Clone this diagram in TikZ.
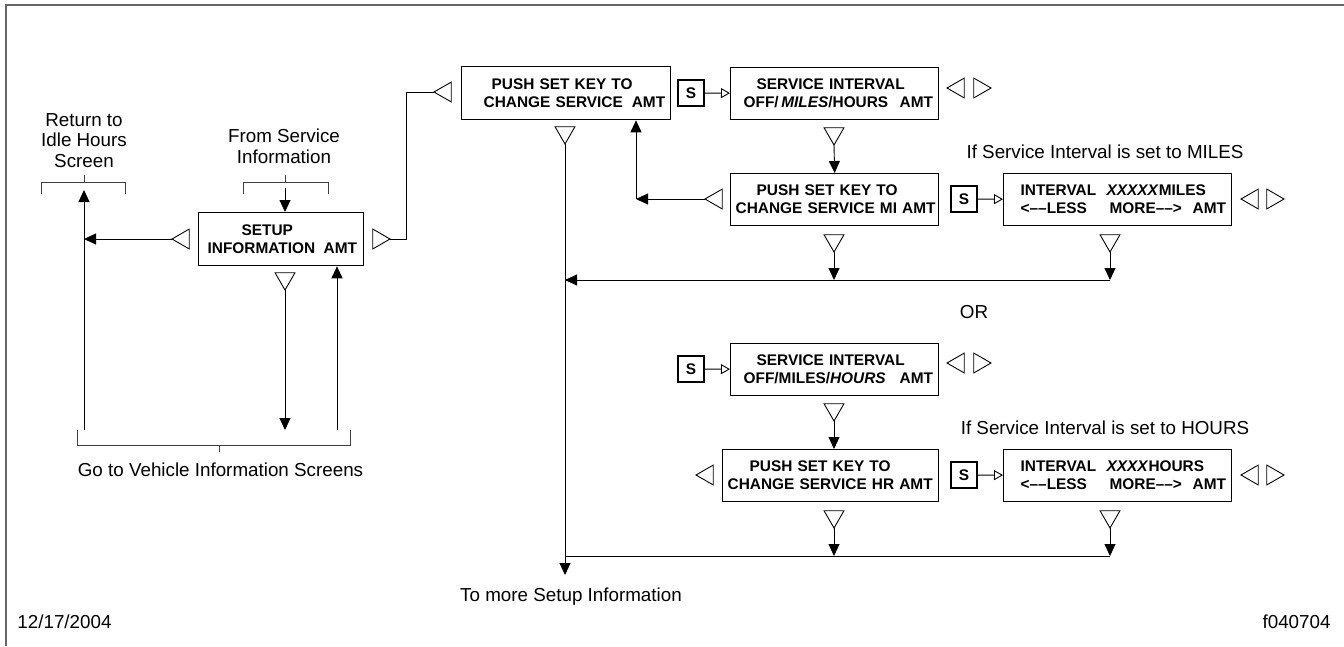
\documentclass[tikz,border=0pt]{standalone}
\usepackage{fontspec}
\setmainfont{Liberation Sans}
\usetikzlibrary{arrows.meta,shapes.geometric}
\newcommand\bxfont{\fontsize{15.4}{18}\selectfont\bfseries}
\newcommand\rgfont{\fontsize{18.8}{20.5}\selectfont}
\begin{document}
\begin{tikzpicture}[x=1pt,y=-1pt,line width=0.9pt,
  fa/.style={-{Triangle[length=12pt,width=11pt]}},
  oa/.style={-{Triangle[open,length=9pt,width=10pt]}},
  scrbox/.style={draw,line width=1.3pt,inner sep=0pt,anchor=north west,align=left,font=\bxfont},
  sbox/.style={draw,line width=1.3pt,inner sep=0pt,minimum size=26pt,font=\bxfont},
  tri/.style={draw,regular polygon,regular polygon sides=3,minimum size=23pt,inner sep=0pt,outer sep=0pt,line width=0.9pt,fill=white,anchor=corner 1},
  triL/.style={tri,regular polygon rotate=90},
  triR/.style={tri,regular polygon rotate=-90},
  triD/.style={tri,regular polygon rotate=180},
  brk/.style={line width=0.8pt,black!75},
  lbl/.style={font=\rgfont,align=center,inner sep=0pt}]
\useasboundingbox (0,0) rectangle (1344,646);
\draw[black!60,line width=1.5pt] (6,646) -- (6,5) -- (1344,5);

% screen boxes
\node[scrbox,text width=165pt,minimum height=53pt] (setup) at (198,212)
  {\hspace*{43pt}SETUP\\\hspace*{9pt}INFORMATION\hspace{8.5pt}AMT};
\node[scrbox,text width=209pt,minimum height=53pt] (push1) at (461,66)
  {\hspace*{30pt}PUSH SET KEY TO\\\hspace*{22pt}CHANGE SERVICE\hspace{9pt}AMT};
\node[scrbox,text width=208pt,minimum height=52pt] (si1) at (730,67)
  {\hspace*{26pt}SERVICE INTERVAL\\\hspace*{13pt}\rlap{OFF/\,\textit{MILES}/HOURS}\hspace{156pt}AMT};
\node[scrbox,text width=208pt,minimum height=52pt] (pushMI) at (730,173)
  {\hspace*{26pt}PUSH SET KEY TO\\\hspace*{5pt}CHANGE SERVICE MI AMT};
\node[scrbox,text width=228pt,minimum height=52pt] (miles) at (1003,173)
  {\hspace*{17pt}\rlap{INTERVAL}\hspace{86pt}\textit{XXXXX}MILES\\
   \hspace*{17pt}\rlap{<––LESS}\hspace{89pt}\rlap{MORE––>}\hspace{83pt}AMT};
\node[scrbox,text width=208pt,minimum height=52pt] (si2) at (730,343)
  {\hspace*{26pt}SERVICE INTERVAL\\\hspace*{13pt}\rlap{OFF/MILES/\textit{HOURS}}\hspace{156pt}AMT};
\node[scrbox,text width=216pt,minimum height=52pt] (pushHR) at (722,449)
  {\hspace*{27pt}PUSH SET KEY TO\\\hspace*{5pt}CHANGE SERVICE HR AMT};
\node[scrbox,text width=228pt,minimum height=52pt] (hours) at (1003,449)
  {\hspace*{17pt}\rlap{INTERVAL}\hspace{86pt}\textit{XXXX}HOURS\\
   \hspace*{17pt}\rlap{<––LESS}\hspace{89pt}\rlap{MORE––>}\hspace{83pt}AMT};

% S keys
\node[sbox] (s1) at (691,93) {S};
\node[sbox] (s2) at (964,199) {S};
\node[sbox] (s3) at (691,369) {S};
\node[sbox] (s4) at (964,475) {S};
\draw[oa] (s1) -- (si1);
\draw[oa] (s2) -- (miles);
\draw[oa] (s3) -- (si2);
\draw[oa] (s4) -- (hours);

% open triangles
\node[triL] (tSetL) at (172,239) {};
\node[triR] (tSetR) at (390,239) {};
\node[triD] (tSetD) at (285,290) {};
\node[triL] (tP1L) at (434,92) {};
\node[triD] (tP1D) at (565,144) {};
\node[triL] (tSi1L) at (947,88) {};
\node[triR] (tSi1R) at (991,88) {};
\node[triD] (tSi1D) at (834,145) {};
\node[triL] (tMiL) at (705,199) {};
\node[triD] (tMiD) at (834,252) {};
\node[triL] (tMilesL) at (1241,199) {};
\node[triR] (tMilesR) at (1284,199) {};
\node[triD] (tMilesD) at (1110,252) {};
\node[triL] (tSi2L) at (947,363) {};
\node[triR] (tSi2R) at (991,363) {};
\node[triD] (tSi2D) at (834,421) {};
\node[triL] (tHrL) at (696,475) {};
\node[triD] (tHrD) at (834,528) {};
\node[triL] (tHoursL) at (1241,475) {};
\node[triR] (tHoursR) at (1284,475) {};
\node[triD] (tHoursD) at (1110,528) {};

% coordinates
\coordinate (retIn) at (84,190);
\coordinate (jL) at (84,239);
\coordinate (retBot) at (84,430);
\coordinate (fromOut) at (285,188);
\coordinate (setDn) at (285,430);
\coordinate (setUp) at (337,430);
\coordinate (k2) at (406,92);
\coordinate (jP) at (636,199);
\coordinate (mainEnd) at (565,575);
\coordinate (j1m) at (834,280);
\coordinate (h1R) at (1110,280);
\coordinate (h1L) at (565,280);
\coordinate (hrTop) at (834,449);
\coordinate (j2m) at (834,556);
\coordinate (h2R) at (1110,556);
\coordinate (h2L) at (565,556);

% connectors
\draw[fa] (tSetL.corner 1) -- (jL);
\draw[fa] (retBot) -- (retIn);
\draw[fa] (fromOut) -- (setup.north -| fromOut);
\draw (tSetR.corner 1) -| (k2) -- (tP1L.corner 1);
\draw[fa] (tSetD.corner 1) -- (setDn);
\draw[fa] (setUp) -- (setup.south -| setUp);
\draw[fa] (tP1D.corner 1) -- (mainEnd);
\draw[fa] (tMiL.corner 1) -- (jP);
\draw[fa] (jP) -- (push1.south -| jP);
\draw[fa] (tSi1D.corner 1) -- (pushMI.north);
\draw[fa] (tMiD.corner 1) -- (j1m);
\draw[fa] (tMilesD.corner 1) -- (h1R);
\draw[fa] (h1R) -- (h1L);
\draw[fa] (tSi2D.corner 1) -- (hrTop);
\draw[fa] (tHrD.corner 1) -- (j2m);
\draw[fa] (tHoursD.corner 1) -- (h2R);
\draw (h2R) -- (h2L);

% brackets
\draw[brk] (41,194) -- (41,182) -- (125,182) -- (125,194) (84,175) -- (84,182);
\draw[brk] (243,194) -- (243,182) -- (328,182) -- (328,194) (285,175) -- (285,182);
\draw[brk] (77,430) -- (77,445) -- (350,445) -- (350,430) (219,445) -- (219,452);

% labels
\node[lbl] (tRet) at (84,140.5) {Return to\\Idle Hours\\Screen};
\node[lbl] (tFrom) at (284,146.5) {From Service\\Information};
\node[lbl,anchor=base] (tGo) at (220.5,476) {Go to Vehicle Information Screens};
\node[lbl,anchor=base] (tMore) at (571,601) {To more Setup Information};
\node[lbl,anchor=base] (tIfM) at (1105,158) {If Service Interval is set to MILES};
\node[lbl,anchor=base] (tIfH) at (1105,434) {If Service Interval is set to HOURS};
\node[lbl,anchor=base] (tOR) at (974,318) {OR};
\node[lbl,anchor=base west] (tDate) at (17,628) {12/17/2004};
\node[lbl,anchor=base east] (tFig) at (1331,628) {f040704};
\end{tikzpicture}
\end{document}
